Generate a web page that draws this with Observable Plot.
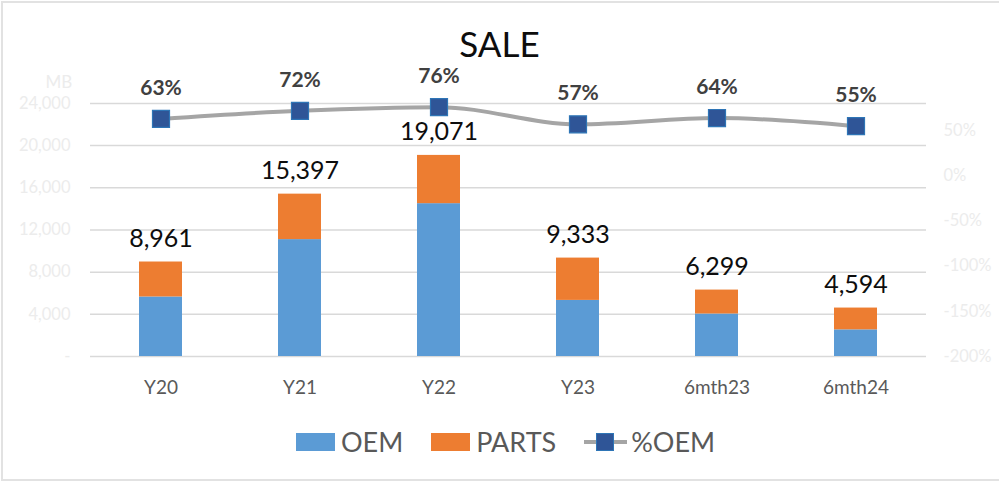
<!DOCTYPE html>
<html>
<head>
<meta charset="utf-8">
<script src="https://cdn.jsdelivr.net/npm/d3@7"></script>
<script src="https://cdn.jsdelivr.net/npm/@observablehq/plot@0.6"></script>
<style>
  html, body { margin: 0; padding: 0; background: #fff; }
  #wrap { position: relative; width: 999px; height: 483px; overflow: hidden; font-family: Lato, "Open Sans", sans-serif; }
  #border { position: absolute; left: 1px; top: 1px; width: 1000px; height: 476px; border: 2px solid #e2e2e2; pointer-events: none; }
  #title { height: 62px; text-align: center; font-size: 35px; color: #0d0d0d; line-height: 86px; }
  #legend { height: 71px; display: flex; justify-content: center; align-items: center; gap: 0; padding-left: 12px; box-sizing: border-box; padding-bottom: 12px; }
  .item { display: flex; align-items: center; font-size: 27px; color: #595959; margin: 0 14px; }
  .sw { width: 39px; height: 18px; margin-right: 6px; }
  .ln { position: relative; width: 43px; height: 18px; margin-right: 4px; }
  .ln .bar { position: absolute; left: 0; right: 0; top: 7px; height: 4px; background: #a5a5a5; }
  .ln .sq { position: absolute; left: 12px; top: 0; width: 16px; height: 16px; background: #2f5597; border: 1px solid #2e75b6; }
  svg { overflow: visible; }
</style>
</head>
<body>
<div id="wrap">
  <div id="title">SALE</div>
  <div id="chart"></div>
  <div id="legend">
    <div class="item"><div class="sw" style="background:#5b9bd5"></div>OEM</div>
    <div class="item"><div class="sw" style="background:#ed7d31"></div>PARTS</div>
    <div class="item"><div class="ln"><div class="bar"></div><div class="sq"></div></div>%OEM</div>
  </div>
  <div id="border"></div>
</div>
<script>
const categories = ["Y20", "Y21", "Y22", "Y23", "6mth23", "6mth24"];
const oem   = [5645, 11086, 14494, 5320, 4031, 2527];
const parts = [3316, 4311, 4577, 4013, 2268, 2067];
const totals = [8961, 15397, 19071, 9333, 6299, 4594];
const pctOEM = [63, 72, 76, 57, 64, 55];
const leftTicks = [0, 4000, 8000, 12000, 16000, 20000, 24000];
const rightTicks = [-200, -150, -100, -50, 0, 50];

const yMax = 25700;            // left axis top
const rMin = -200, rMax = 100; // right axis range (%)
const toLeft = v => (v - rMin) / (rMax - rMin) * yMax;

const stacked = [];
categories.forEach((c, i) => {
  stacked.push({cat: c, series: "OEM", value: oem[i]});
  stacked.push({cat: c, series: "PARTS", value: parts[i]});
});
const pctData = categories.map((c, i) => ({cat: c, pct: pctOEM[i], y: toLeft(pctOEM[i])}));
const totalData = categories.map((c, i) => ({cat: c, total: totals[i]}));

const fmt = d3.format(",");
const faint = "#ececec";

const chart = Plot.plot({
  width: 999,
  height: 350,
  marginLeft: 90,
  marginRight: 73,
  marginTop: 23,
  marginBottom: 56,
  style: {fontFamily: "Lato, 'Open Sans', sans-serif", background: "transparent"},
  x: {domain: categories, paddingInner: 0.69, paddingOuter: 0.345, align: 0.5},
  y: {domain: [0, yMax]},
  color: {domain: ["OEM", "PARTS"], range: ["#5b9bd5", "#ed7d31"]},
  marks: [
    Plot.ruleY(leftTicks, {stroke: "#d9d9d9", strokeWidth: 1.5}),
    Plot.axisY({ticks: leftTicks, tickSize: 0, tickPadding: 20, tickFormat: d => d === 0 ? "-" : fmt(d), fontSize: 16.5, fill: faint, label: null}),
    Plot.axisY({anchor: "right", ticks: rightTicks.map(toLeft), tickSize: 0, tickPadding: 17, tickFormat: (d, i) => rightTicks[i] + "%", fontSize: 16.5, fill: faint, textAnchor: "start", label: null}),
    Plot.axisX({tickSize: 0, tickPadding: 24, fontSize: 19, fill: "#595959", label: null}),
    Plot.text(["MB"], {frameAnchor: "top-left", dx: -45, dy: -10, fontSize: 17, fill: faint}),
    Plot.barY(stacked, {x: "cat", y: "value", fill: "series", order: ["OEM", "PARTS"]}),
    Plot.text(totalData, {x: "cat", y: "total", text: d => fmt(d.total), dy: -23, fontSize: 25, fill: "#0d0d0d"}),
    Plot.line(pctData, {x: "cat", y: "y", stroke: "#a5a5a5", strokeWidth: 4, curve: "monotone-x"}),
    Plot.dot(pctData, {x: "cat", y: "y", symbol: "square", r: 9.6, fill: "#2f5597", stroke: "#2e75b6", strokeWidth: 1.2}),
    Plot.text(pctData, {x: "cat", y: "y", text: d => d.pct + "%", dy: -31, fontSize: 21, fontWeight: "bold", fill: "#404040"})
  ]
});
document.getElementById("chart").appendChild(chart);
</script>
</body>
</html>
